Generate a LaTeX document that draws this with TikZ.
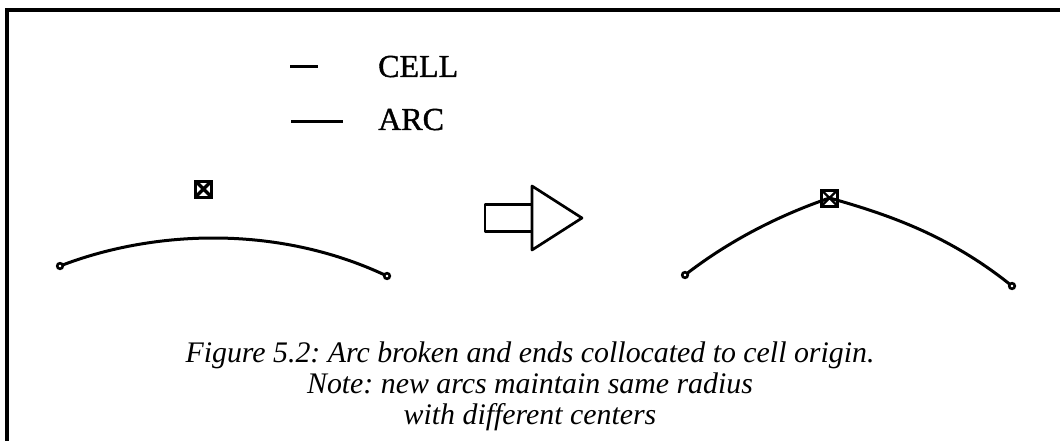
\documentclass[tikz,border=0pt]{standalone}
\usepackage{fontspec}
\setmainfont{Liberation Serif}
\newfontfamily\legendfont[FakeBold=1.2]{Liberation Serif}
\frenchspacing
\tikzset{
  frameline/.style={line width=4pt,line cap=butt},
  shapeline/.style={line width=2.7pt,line join=round},
  arcline/.style={line width=3pt},
  endring/.style={circle,draw,line width=2.6pt,inner sep=0pt,minimum size=5.6pt,fill=white},
  cellmark/.style={rectangle,draw,line width=3pt,inner sep=0pt,minimum size=16pt,
    path picture={\draw[line width=#1] (path picture bounding box.north west)--(path picture bounding box.south east)
      (path picture bounding box.north east)--(path picture bounding box.south west);}},
  legend/.style={font=\fontsize{32}{34}\legendfont,anchor=base west,inner sep=0pt},
  caption/.style={font=\fontsize{29.85}{32}\selectfont\itshape,anchor=base,inner sep=0pt},
}
\begin{document}
\begin{tikzpicture}[x=1pt,y=-1pt]
\useasboundingbox (0,0) rectangle (1060,441);
\draw[frameline] (7,441) -- (7,10) -- (1060,10);
% legend
\coordinate (cellA) at (290,67);
\coordinate (cellB) at (318,67);
\coordinate (arcA) at (291,122);
\coordinate (arcB) at (343,122);
\draw[arcline] (cellA) -- (cellB);
\draw[arcline] (arcA) -- (arcB);
\node[legend] (celltext) at (378,77) {CELL};
\node[legend] (arctext) at (378,130) {ARC};
% left arc
\node[cellmark=3.2pt] (cellL) at (203.5,189) {};
\draw[arcline] (60,266) .. controls (150,231) and (275,223) .. (387,276);
\node[endring] (l1) at (60,266) {};
\node[endring] (l2) at (387,276) {};
% arrow
\coordinate (a1) at (532,186);
\coordinate (a2) at (532,250);
\coordinate (a3) at (582,218);
\coordinate (b1) at (532,204.5);
\coordinate (b2) at (485,204.5);
\coordinate (b3) at (485,231.5);
\coordinate (b4) at (532,231.5);
\draw[shapeline] (a1) -- (a3) -- (a2) -- cycle;
\draw[shapeline] (b1) -- (b2) -- (b3) -- (b4);
% right arcs
\draw[arcline] (685,275) .. controls (730,240) and (780,215) .. (829.5,198);
\draw[arcline] (829.5,198) .. controls (890,215) and (950,236) .. (1012,286);
\node[endring] (r1) at (685,275) {};
\node[endring] (r2) at (1012,286) {};
\node[cellmark=2.4pt] (cellR) at (829.5,198) {};
% caption
\node[caption] (c1) at (530,362) {Figure 5.2: Arc broken and ends collocated to cell origin.};
\node[caption] (c2) at (530,393) {Note: new arcs maintain same radius};
\node[caption] (c3) at (530,424) {with different centers};
\end{tikzpicture}
\end{document}
